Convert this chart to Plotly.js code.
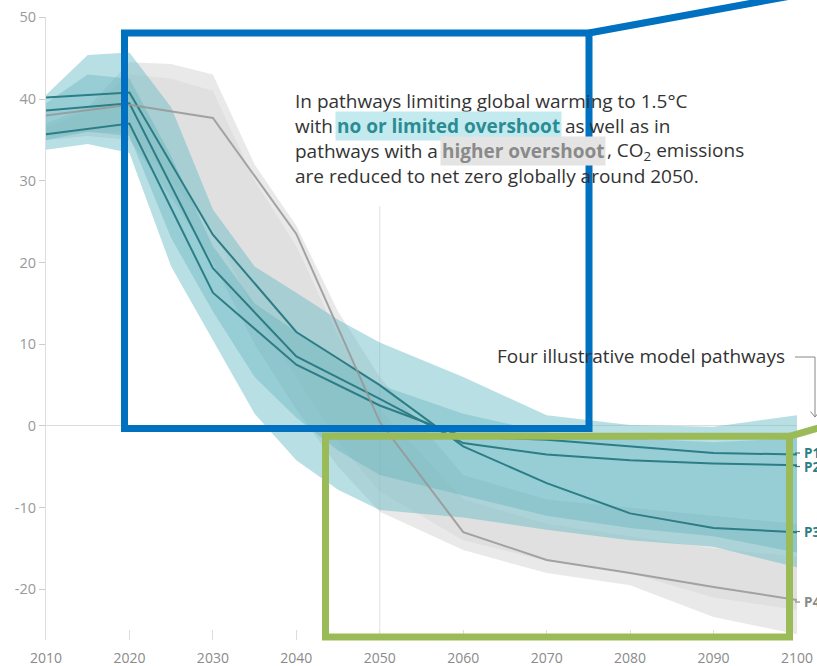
<!DOCTYPE html>
<html><head><meta charset="utf-8">
<script src="https://cdn.plot.ly/plotly-3.0.1.min.js"></script>
<style>html,body{margin:0;padding:0;background:#fff;overflow:hidden}#chart{width:817px;height:666px}</style>
</head><body><div id="chart"></div>
<script>
// ---------- data ----------
const bandYears = [2010, 2015, 2020, 2025, 2030, 2035, 2040, 2045, 2050, 2060, 2070, 2080, 2090, 2100];
const tealOuterUpper = [40.5, 45.4, 45.7, 39.0, 26.5, 19.5, 16.3, 13.0, 10.2, 6.0, 1.3, 0.1, -0.1, 1.3];
const tealOuterLower = [33.8, 34.5, 33.4, 19.5, 10.5, 1.5, -4.2, -7.8, -10.3, -11.2, -12.7, -14.0, -14.8, -17.3];
const tealInnerUpper = [39.5, 43.0, 42.5, 33.0, 22.0, 15.0, 11.5, 8.0, 5.0, 1.5, -0.8, -1.5, -2.0, -1.5];
const tealInnerLower = [35.0, 36.0, 35.5, 23.0, 14.0, 6.0, 1.0, -3.0, -6.0, -8.5, -11.0, -12.5, -13.5, -15.5];
const greyOuterUpper = [37.0, 39.0, 44.5, 44.3, 43.0, 32.0, 24.5, 14.0, 6.0, -6.0, -9.0, -10.0, -11.0, -12.0];
const greyOuterLower = [35.0, 35.5, 35.0, 28.0, 20.0, 10.0, 2.0, -5.0, -10.5, -15.2, -18.0, -19.5, -23.4, -25.5];
const greyInnerUpper = [36.5, 38.5, 43.0, 42.5, 41.0, 30.0, 22.0, 11.0, 2.0, -9.0, -12.0, -13.5, -15.0, -16.0];
const greyInnerLower = [35.5, 36.0, 36.0, 30.0, 24.0, 14.0, 6.0, -2.0, -8.0, -14.0, -16.5, -18.0, -21.0, -22.5];

const pathYears = [2010, 2020, 2030, 2040, 2050, 2060, 2070, 2080, 2090, 2100];
const P1 = [35.7, 37.0, 16.3, 7.5, 2.5, -1.3, -1.7, -2.5, -3.3, -3.5];
const P2 = [38.6, 39.5, 19.3, 8.5, 3.3, -2.1, -3.5, -4.2, -4.6, -4.8];
const P3 = [40.2, 40.8, 23.4, 11.5, 5.0, -2.5, -7.0, -10.7, -12.5, -13.0];
const P4 = [38.0, 39.3, 37.7, 23.5, 0.5, -13.0, -16.4, -18.0, -19.7, -21.3];

const xTicks = [2010, 2020, 2030, 2040, 2050, 2060, 2070, 2080, 2090, 2100];
const yTicks = [-20, -10, 0, 10, 20, 30, 40, 50];
const pathLabels = ['P1', 'P2', 'P3', 'P4'];

// ---------- helpers ----------
const L = 46, T = 17, W = 751, H = 623;
const px = x => (x - L) / W;
const py = y => (T + H - y) / H;
function band(xs, up, lo, color) {
  return {x: xs.concat(xs.slice().reverse()), y: up.concat(lo.slice().reverse()),
    type: 'scatter', mode: 'lines', fill: 'toself', fillcolor: color,
    line: {width: 0}, hoverinfo: 'skip', showlegend: false};
}
function path(y, color, w) {
  return {x: pathYears, y: y, type: 'scatter', mode: 'lines',
    line: {color: color, width: w}, hoverinfo: 'skip', showlegend: false};
}

const tealLine = 'rgb(45,125,133)';
const traces = [
  band(bandYears, greyOuterUpper, greyOuterLower, 'rgba(200,200,200,0.4)'),
  band(bandYears, greyInnerUpper, greyInnerLower, 'rgba(190,190,190,0.22)'),
  band(bandYears, tealOuterUpper, tealOuterLower, 'rgba(95,185,195,0.45)'),
  band(bandYears, tealInnerUpper, tealInnerLower, 'rgba(80,170,180,0.3)'),
  path(P1, tealLine, 2),
  path(P2, tealLine, 2),
  path(P3, tealLine, 2),
  path(P4, 'rgba(150,150,150,0.85)', 2)
];

const F = 'Open Sans, sans-serif';
const txt = '#333';
const FS = 19;
function ann(x, y, text, opts) {
  return Object.assign({xref: 'paper', yref: 'paper', x: px(x), y: py(y), text: text,
    showarrow: false, xanchor: 'left', yanchor: 'middle',
    font: {family: F, size: FS, color: txt}}, opts || {});
}
const annotations = [
  ann(293, 101, 'In pathways limiting global warming to 1.5°C'),
  ann(293, 126, 'with'),
  ann(335, 126, '<b>no or limited overshoot</b>', {bgcolor: '#c3eaee', borderpad: 1,
      font: {family: F, size: FS, color: '#2b8c93'}}),
  ann(563, 126, 'as well as in'),
  ann(293, 151, 'pathways with a'),
  ann(440, 151, '<b>higher overshoot</b>', {bgcolor: '#e4e4e4', borderpad: 1,
      font: {family: F, size: FS, color: '#8a8a8a'}}),
  ann(605, 151, ', CO<sub>2</sub> emissions'),
  ann(293, 176, 'are reduced to net zero globally around 2050.'),
  ann(495, 356, 'Four illustrative model pathways')
];
const labelY = [453, 466.5, 531.5, 602];
const labelC = [tealLine, tealLine, tealLine, '#8a8a8a'];
pathLabels.forEach((t, i) => {
  annotations.push(ann(802, labelY[i], '<b>' + t + '</b>',
    {font: {family: F, size: 13.5, color: labelC[i]}}));
});

function seg(x0, y0, x1, y1, color, w, layer) {
  return {type: 'line', xref: 'paper', yref: 'paper', x0: px(x0), y0: py(y0), x1: px(x1), y1: py(y1),
    line: {color: color, width: w}, layer: layer || 'above'};
}
const shapes = [
  {type: 'line', xref: 'x', yref: 'paper', x0: 2050, x1: 2050, y0: 0, y1: py(206),
   line: {color: '#e2e2e2', width: 1}, layer: 'below'},
  seg(795, 357, 815, 357, '#888', 1),
  seg(815, 357, 815, 417, '#888', 1),
  seg(810.5, 411.5, 815, 417, '#888', 1),
  seg(819.5, 411.5, 815, 417, '#888', 1),
  {type: 'rect', xref: 'paper', yref: 'paper', x0: px(124.5), x1: px(589), y0: py(428.5), y1: py(33),
   line: {color: '#0070C0', width: 7}, layer: 'above'},
  seg(589, 33, 822, -9.7, '#0070C0', 7),
  {type: 'rect', xref: 'paper', yref: 'paper', x0: px(325.5), x1: px(789.5), y0: py(637), y1: py(436.3),
   line: {color: '#9BBB59', width: 7}, layer: 'above'},
  seg(789.5, 436.3, 822, 427, '#9BBB59', 7)
];
labelY.forEach((y, i) => shapes.push(seg(795, y, 800, y, labelC[i], 1.2)));

const layout = {
  width: 817, height: 666,
  margin: {l: L, r: 817 - L - W, t: T, b: 666 - T - H, pad: 0},
  paper_bgcolor: '#fff', plot_bgcolor: '#fff',
  showlegend: false, hovermode: false,
  xaxis: {range: [2010, 2100], tickvals: xTicks, ticktext: xTicks.map(String),
    showgrid: false, zeroline: false, showline: false,
    ticks: 'inside', ticklen: 10, tickcolor: '#dddddd', tickwidth: 1,
    ticklabelstandoff: 8,
    tickfont: {family: F, size: 14, color: '#8a8a8a'}},
  yaxis: {range: [-26.2, 50.05], tickvals: yTicks, ticktext: yTicks.map(String),
    showgrid: false, zeroline: true, zerolinecolor: '#dddddd', zerolinewidth: 1,
    showline: true, linecolor: '#dddddd', linewidth: 1,
    ticks: 'outside', ticklen: 6, tickcolor: '#cccccc', tickwidth: 1,
    tickfont: {family: F, size: 14.5, color: '#999999'}},
  shapes: shapes,
  annotations: annotations
};
Plotly.newPlot('chart', traces, layout, {displayModeBar: false, staticPlot: true});
</script>
</body></html>
